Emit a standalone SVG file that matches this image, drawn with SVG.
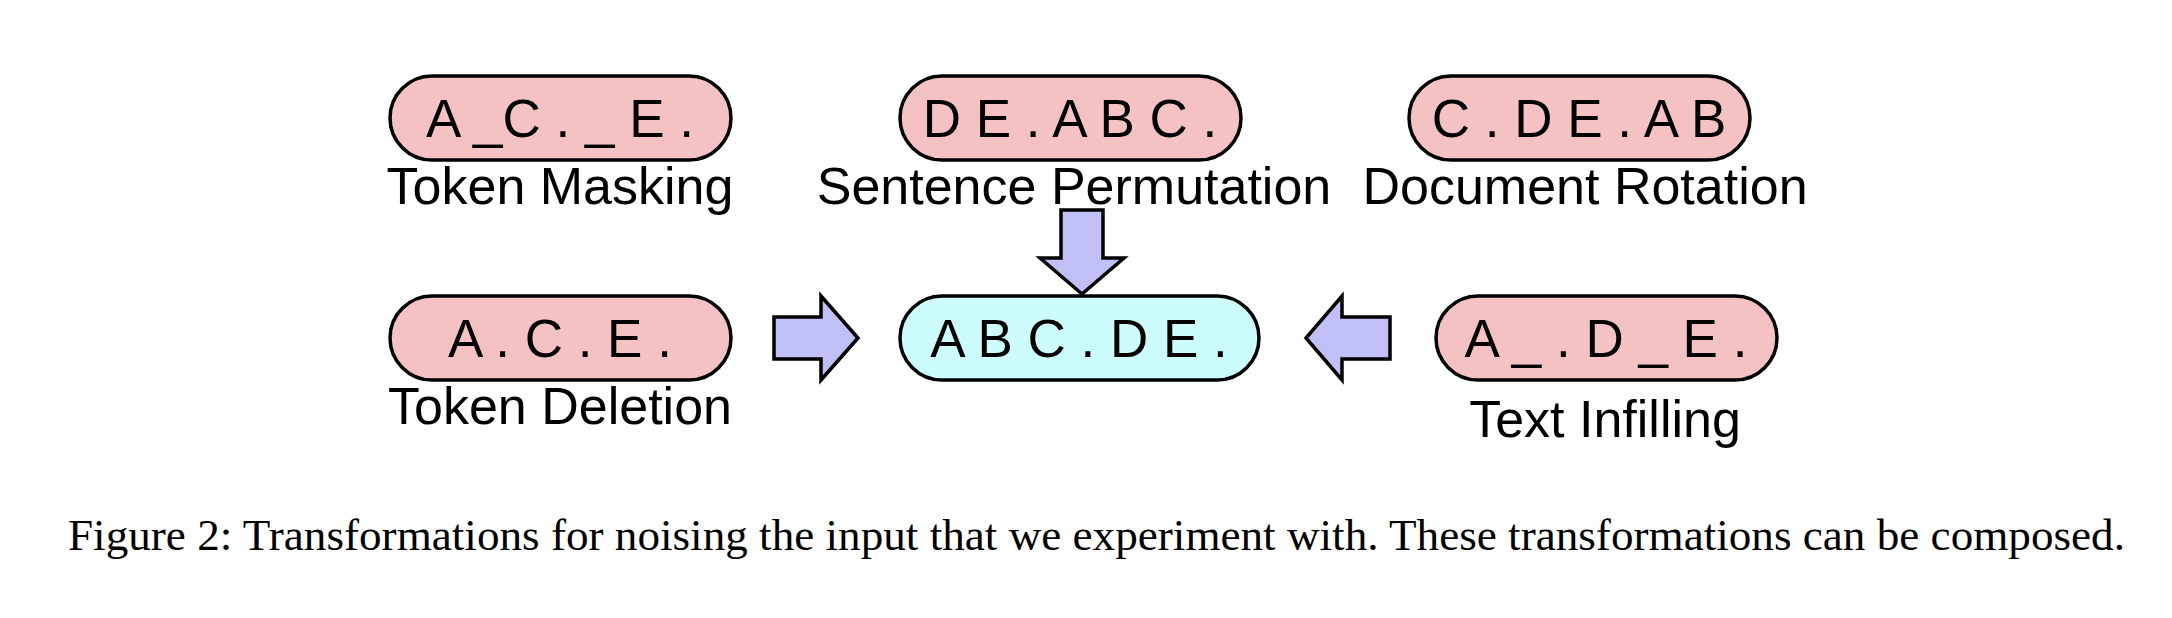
<svg xmlns="http://www.w3.org/2000/svg" width="2172" height="618" viewBox="0 0 2172 618">
<style>
.pill{fill:#f4c2c2;stroke:#000;stroke-width:3.5}
.orig{fill:#ccfcfc;stroke:#000;stroke-width:3.5}
.arr{fill:#c0c0f6;stroke:#000;stroke-width:3.5;stroke-linejoin:miter}
.t{font-family:"Liberation Sans",Arial,Helvetica,sans-serif;font-size:53px;fill:#000;text-anchor:middle}
.lbl{font-family:"Liberation Sans",Arial,Helvetica,sans-serif;font-size:52px;fill:#000;text-anchor:middle}
.cap{font-family:"Liberation Serif","Times New Roman",serif;font-size:45px;fill:#000}
</style>
<rect width="2172" height="618" fill="#fff"/>
<g id="token-masking">
<rect class="pill" x="390" y="76" width="341" height="84" rx="42"/>
<text class="t" x="560" y="137" xml:space="preserve">A _C . _ E .</text>
<text class="lbl" x="560" y="204">Token Masking</text>
</g>
<g id="sentence-permutation">
<rect class="pill" x="900" y="76" width="341" height="84" rx="42"/>
<text class="t" x="1070" y="137" xml:space="preserve">D E . A B C .</text>
<text class="lbl" x="1074" y="204">Sentence Permutation</text>
</g>
<g id="document-rotation">
<rect class="pill" x="1409" y="76" width="341" height="84" rx="42"/>
<text class="t" x="1579" y="137" xml:space="preserve">C . D E . A B</text>
<text class="lbl" x="1585" y="204">Document Rotation</text>
</g>
<g id="token-deletion">
<rect class="pill" x="390" y="296" width="341" height="84" rx="42"/>
<text class="t" x="560" y="357" xml:space="preserve">A . C . E .</text>
<text class="lbl" x="560" y="424">Token Deletion</text>
</g>
<g id="original">
<rect class="orig" x="900" y="296" width="359" height="84" rx="42"/>
<text class="t" x="1079" y="357" xml:space="preserve">A B C . D E .</text>
</g>
<g id="text-infilling">
<rect class="pill" x="1436" y="296" width="341" height="84" rx="42"/>
<text class="t" x="1606" y="357" xml:space="preserve">A _ . D _ E .</text>
<text class="lbl" x="1605" y="437">Text Infilling</text>
</g>
<g id="connectors">
<path class="arr" d="M1061,210 H1103 V258 H1124 L1082,294 L1040,258 H1061 Z"/>
<path class="arr" d="M774,317 H821 V296 L858,338 L821,380 V359 H774 Z"/>
<path class="arr" d="M1390,317 H1342 V296 L1306,338 L1342,380 V359 H1390 Z"/>
</g>
<text class="cap" x="68" y="550" textLength="2057" lengthAdjust="spacingAndGlyphs">Figure 2: Transformations for noising the input that we experiment with. These transformations can be composed.</text>
</svg>
